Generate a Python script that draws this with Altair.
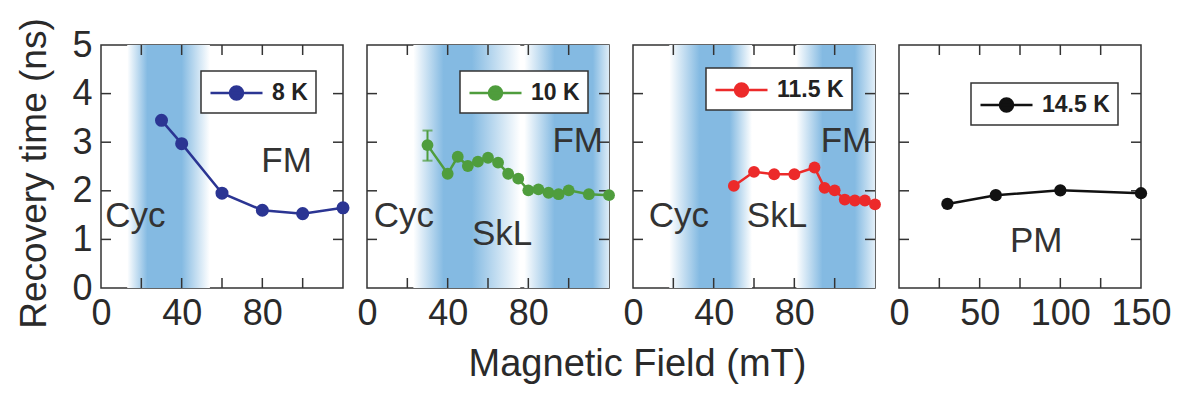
import altair as alt
import pandas as pd

FONT = "Liberation Sans"
TXT = "#2a2a2a"
W, H = 242, 243

# ---- data ----
field_8 = [30, 40, 60, 80, 100, 120]
time_8 = [3.45, 2.97, 1.95, 1.60, 1.53, 1.65]

field_10 = [30, 40, 45, 50, 55, 60, 65, 70, 75, 80, 85, 90, 95, 100, 110, 120]
time_10 = [2.94, 2.35, 2.70, 2.51, 2.60, 2.68, 2.58, 2.35, 2.25, 2.01, 2.03, 1.96, 1.93, 2.01, 1.93, 1.91]
err_10_field = [30]
err_10_lo = [2.62]
err_10_hi = [3.24]

field_115 = [50, 60, 70, 80, 90, 95, 100, 105, 110, 115, 120]
time_115 = [2.10, 2.39, 2.34, 2.34, 2.48, 2.06, 2.01, 1.82, 1.80, 1.80, 1.72]

field_145 = [30, 60, 100, 150]
time_145 = [1.73, 1.91, 2.01, 1.95]

# phase bands (start, dark start, dark end, end) in mT
bands_8 = [(13, 23, 40, 54)]
bands_10 = [(23, 38, 52, 76), (78, 93, 112, 123)]
bands_115 = [(18, 33, 48, 59), (81, 94, 110, 123)]

notes_8 = [("Cyc", 17, 1.48), ("FM", 92, 2.61)]
notes_10 = [("Cyc", 18.3, 1.48), ("SkL", 67, 1.11), ("FM", 104.5, 3.02)]
notes_115 = [("Cyc", 22.8, 1.48), ("SkL", 71.4, 1.48), ("FM", 105.6, 3.02)]
notes_145 = [("PM", 85, 0.97)]

y_ticks = [1, 2, 3, 4]
y_labels = [0, 1, 2, 3, 4, 5]

BLUE = "#84bae2"
K = 12.5  # legend symbol px per path unit


def legend_path():
    cx, r = 26 / K - 1, 6.5 / K
    kr = 0.5523 * r
    f = lambda v: f"{v:.3f}"
    return (f"M-1,0L{f(52 / K - 1)},0"
            f"M{f(cx + r)},0C{f(cx + r)},{f(kr)} {f(cx + kr)},{f(r)} {f(cx)},{f(r)}"
            f"C{f(cx - kr)},{f(r)} {f(cx - r)},{f(kr)} {f(cx - r)},0"
            f"C{f(cx - r)},{f(-kr)} {f(cx - kr)},{f(-r)} {f(cx)},{f(-r)}"
            f"C{f(cx + kr)},{f(-r)} {f(cx + r)},{f(-kr)} {f(cx + r)},0Z")


def panel(label, color, fields, times, xmax, xtick_vals, xlabel_vals, bands, notes,
          lx, ly, show_y, err=None, size=150):
    xs = alt.Scale(domain=[0, xmax], nice=False, zero=False)
    ys = alt.Scale(domain=[0, 5], nice=False, zero=False)
    xaxis = alt.Axis(values=xlabel_vals, ticks=False, domain=False, grid=False, title=None,
                     labelFontSize=36, labelFont=FONT, labelColor=TXT, labelPadding=8,
                     labelFlush=False, labelOverlap=False, format="d")
    if show_y:
        yaxis = alt.Axis(values=y_labels, ticks=False, domain=False, grid=False,
                         title="Recovery time (ns)", titleFontSize=37, titleFont=FONT,
                         titleFontWeight="normal", titleColor=TXT, titlePadding=18,
                         titleY=128, labelFontSize=36, labelFont=FONT, labelColor=TXT,
                         labelPadding=9, format="d")
    else:
        yaxis = None

    def X(f):
        return alt.X(f, type="quantitative", scale=xs, axis=xaxis)

    def Y(f):
        return alt.Y(f, type="quantitative", scale=ys, axis=yaxis)

    layers = []
    for (s, d0, d1, e) in bands:
        span = e - s
        grad = alt.Gradient(
            gradient="linear", x1=0, x2=1, y1=0, y2=0,
            stops=[alt.GradientStop(offset=0, color="#ffffff"),
                   alt.GradientStop(offset=(d0 - s) / span, color=BLUE),
                   alt.GradientStop(offset=(d1 - s) / span, color=BLUE),
                   alt.GradientStop(offset=1, color="#ffffff")])
        bdf = pd.DataFrame({"b0": [s], "b1": [e]})
        layers.append(alt.Chart(bdf).mark_rect(fill=grad, clip=True).encode(
            x=X("b0"), x2="b1", y=alt.value(0), y2=alt.value(H)))

    # inward ticks on all four sides
    xt = pd.DataFrame({"t": xtick_vals})
    yt = pd.DataFrame({"t": y_ticks})
    tick_style = dict(color="#333", strokeWidth=1.5)
    layers.append(alt.Chart(xt).mark_rule(**tick_style).encode(x=X("t"), y=alt.value(H), y2=alt.value(H - 10)))
    layers.append(alt.Chart(xt).mark_rule(**tick_style).encode(x=X("t"), y=alt.value(0), y2=alt.value(10)))
    layers.append(alt.Chart(yt).mark_rule(**tick_style).encode(y=Y("t"), x=alt.value(0), x2=alt.value(10)))
    layers.append(alt.Chart(yt).mark_rule(**tick_style).encode(y=Y("t"), x=alt.value(W - 10), x2=alt.value(W)))

    ndf = pd.DataFrame({"txt": [n[0] for n in notes], "nx": [n[1] for n in notes], "ny": [n[2] for n in notes]})
    layers.append(alt.Chart(ndf).mark_text(font=FONT, fontSize=35, color="#333", align="center",
                                           baseline="middle").encode(x=X("nx"), y=Y("ny"), text="txt:N"))

    df = pd.DataFrame({"field": fields, "time": times, "series": label})
    if err is not None:
        edf = pd.DataFrame({"ef": err[0], "lo": err[1], "hi": err[2]})
        layers.append(alt.Chart(edf).mark_rule(color=color, strokeWidth=2).encode(x=X("ef"), y=Y("lo"), y2="hi"))
        layers.append(alt.Chart(edf).mark_tick(color=color, orient="horizontal", size=10, thickness=2).encode(x=X("ef"), y=Y("lo")))
        layers.append(alt.Chart(edf).mark_tick(color=color, orient="horizontal", size=10, thickness=2).encode(x=X("ef"), y=Y("hi")))

    layers.append(alt.Chart(df).mark_line(color=color, strokeWidth=2.5).encode(x=X("field"), y=Y("time")))
    legend = alt.Legend(title=None, orient="none", legendX=lx, legendY=ly,
                        symbolType=legend_path(), symbolSize=K * K * 4,
                        symbolStrokeWidth=2.5, symbolStrokeColor=color, symbolFillColor=color,
                        symbolOpacity=1, labelOffset=35,
                        labelFontSize=23, labelFontWeight="bold", labelFont=FONT, labelColor="#222",
                        fillColor="white", strokeColor="#333", padding=8, cornerRadius=0)
    layers.append(alt.Chart(df).mark_point(filled=True, size=size, opacity=1).encode(
        x=X("field"), y=Y("time"),
        color=alt.Color("series:N", scale=alt.Scale(domain=[label], range=[color]), legend=legend)))
    return alt.layer(*layers).properties(width=W, height=H)


p1 = panel("8 K", "#2b3593", field_8, time_8, 120, [20, 40, 60, 80, 100], [0, 40, 80],
           bands_8, notes_8, 100, 26, True, size=170)
p2 = panel("10 K", "#4f9d3d", field_10, time_10, 120, [20, 40, 60, 80, 100], [0, 40, 80],
           bands_10, notes_10, 93, 26, False, err=(err_10_field, err_10_lo, err_10_hi), size=140)
p3 = panel("11.5 K", "#ec2a2a", field_115, time_115, 120, [20, 40, 60, 80, 100], [0, 40, 80],
           bands_115, notes_115, 73, 23, False, size=140)
p4 = panel("14.5 K", "#111111", field_145, time_145, 150, [25, 50, 75, 100, 125], [0, 50, 100, 150],
           [], notes_145, 72, 38, False, size=150)

chart = alt.hconcat(p1, p2, p3, p4, spacing=24, bounds="flush").resolve_scale(
    color="independent").properties(
    title=alt.TitleParams("Magnetic Field (mT)", orient="bottom", anchor="middle", fontSize=38,
                          font=FONT, fontWeight="normal", color=TXT, offset=14, dx=44),
    padding={"left": 15, "top": 17, "right": 5, "bottom": 2},
).configure_view(stroke="#333", strokeWidth=1.5).configure_legend(strokeWidth=1.5)

chart.save("out.html", embed_options={"renderer": "svg", "actions": False})
